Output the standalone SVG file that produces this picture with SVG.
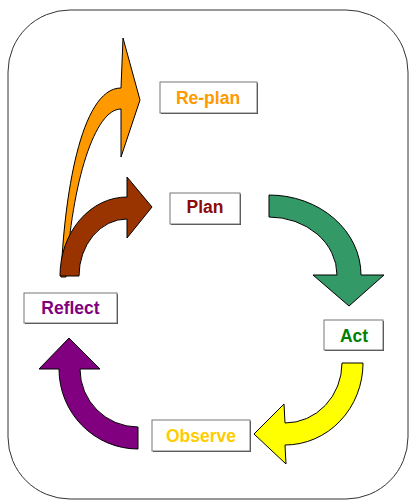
<svg xmlns="http://www.w3.org/2000/svg" width="409" height="500" viewBox="0 0 409 500">
<style>
.frame{fill:#fff;stroke:#333;stroke-width:1}
.arrow{stroke:#000;stroke-width:1;stroke-linejoin:miter}
.shadow{fill:#444}
.box{fill:#fff;stroke:#777;stroke-width:1}
.lbl{font-family:"Liberation Sans",Arial,sans-serif;font-weight:bold;font-size:17.5px;text-anchor:middle}
</style>
<rect class="frame" x="8" y="10" width="400" height="489" rx="62" ry="62"/>
<g id="connectors">
<path class="arrow" fill="#FF9900" d="M61,277 C64,200 80,88 121,88 L123,38 L140,100 L121,157 L121,109 C95,109 72,180 66,277 Z"/>
<path class="arrow" fill="#993300" d="M60,276 A67,79 0 0 1 127,197 L127,177 L152,207 L127,238 L127,219 A48,57 0 0 0 79,276 Z"/>
<path class="arrow" fill="#339966" d="M269,195 A92,80 0 0 1 361,275 L384,275 L349,306 L313,275 L337,275 A68,58 0 0 0 269,217 Z"/>
<path class="arrow" fill="#FFFF00" d="M342,363 L363,363 A78,82 0 0 1 285,445 L286,464 L254,434 L284,404 L285,423 A57,60 0 0 0 342,363 Z"/>
<path class="arrow" fill="#800080" d="M138,427 L138,449 A79,80 0 0 1 59,369 L39,369 L69,338 L100,369 L80,369 A58,58 0 0 0 138,427 Z"/>
</g>
<g id="replan">
<rect class="shadow" x="161" y="83" width="97" height="31"/>
<rect class="box" x="160" y="82" width="97" height="31"/>
<text class="lbl" x="208" y="104" fill="#FF9900">Re-plan</text>
</g>
<g id="plan">
<rect class="shadow" x="171" y="194" width="70" height="31"/>
<rect class="box" x="170" y="193" width="70" height="31"/>
<text class="lbl" x="205" y="213" fill="#8B0A0A">Plan</text>
</g>
<g id="act">
<rect class="shadow" x="325" y="321" width="59" height="30"/>
<rect class="box" x="324" y="320" width="59" height="30"/>
<text class="lbl" x="354" y="342" fill="#008000">Act</text>
</g>
<g id="observe">
<rect class="shadow" x="153" y="421" width="98" height="31"/>
<rect class="box" x="152" y="420" width="98" height="31"/>
<text class="lbl" x="201" y="442" fill="#FFCC00">Observe</text>
</g>
<g id="reflect">
<rect class="shadow" x="25" y="294" width="93" height="30"/>
<rect class="box" x="24" y="293" width="93" height="30"/>
<text class="lbl" x="70.5" y="314" fill="#800080">Reflect</text>
</g>
</svg>
